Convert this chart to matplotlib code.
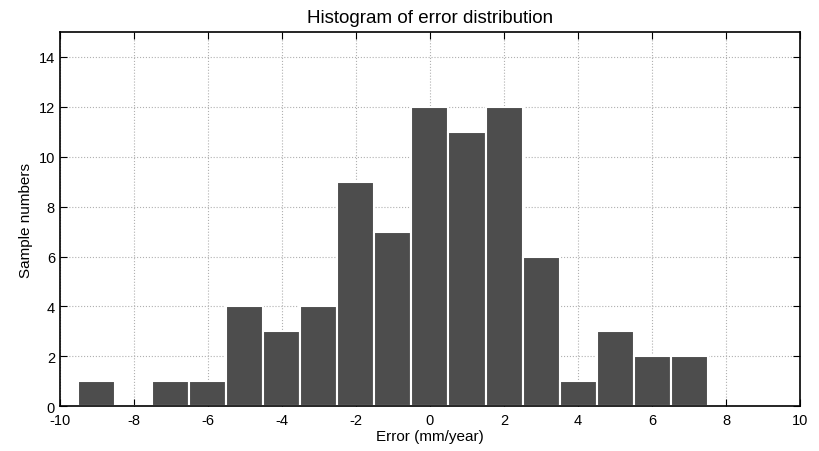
import matplotlib
matplotlib.use('Agg')
import matplotlib.pyplot as plt

plt.rcParams['font.family'] = ['Liberation Sans', 'DejaVu Sans']
plt.rcParams['axes.unicode_minus'] = False

error_bins = [-9, -8, -7, -6, -5, -4, -3, -2, -1, 0, 1, 2, 3, 4, 5, 6, 7]
counts = [1, 0, 1, 1, 4, 3, 4, 9, 7, 12, 11, 12, 6, 1, 3, 2, 2]
x_ticks = [-10, -8, -6, -4, -2, 0, 2, 4, 6, 8, 10]
y_ticks = [0, 2, 4, 6, 8, 10, 12, 14]

fig = plt.figure(figsize=(8.19, 4.52), dpi=100)
ax = fig.add_axes([0.073, 0.099, 0.904, 0.828])

ax.bar(error_bins, counts, width=1.0, color='#4d4d4d', edgecolor='white', linewidth=1.5, zorder=3)

ax.set_xlim(-10, 10)
ax.set_ylim(0, 15)
ax.set_xticks(x_ticks)
ax.set_yticks(y_ticks)
ax.grid(True, linestyle=':', color='#b0b0b0', linewidth=0.8, zorder=0)
ax.tick_params(direction='in', top=True, right=True, labelsize=10.5, length=5)
ax.tick_params(axis='x', pad=5)
for s in ax.spines.values():
    s.set_linewidth(1.2)
    s.set_zorder(4)

ax.set_xlabel('Error (mm/year)', fontsize=11, labelpad=1)
ax.set_ylabel('Sample numbers', fontsize=11)
ax.set_title('Histogram of error distribution', fontsize=13.5, pad=7)

fig.savefig('out.png', dpi=100)
